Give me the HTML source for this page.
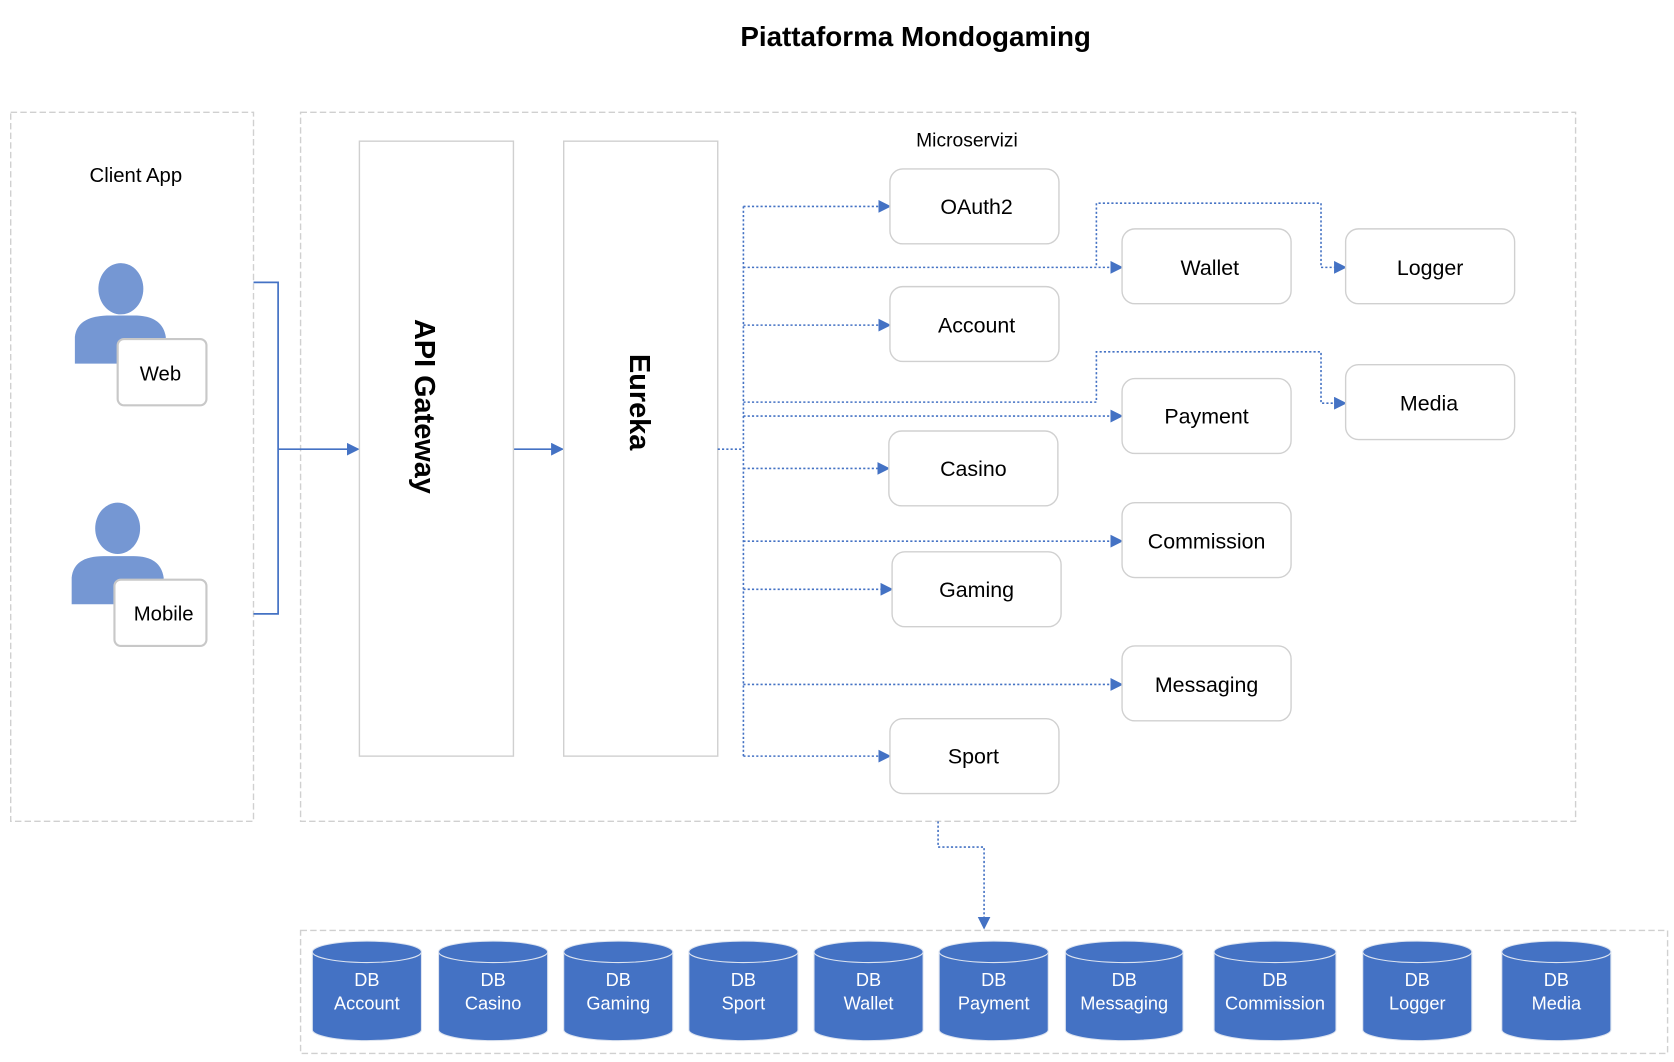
<!DOCTYPE html>
<html><head><meta charset="utf-8"><style>
html,body{margin:0;padding:0;background:#fff;}
svg{display:block;}
text{font-family:"Liberation Sans",sans-serif;}
</style></head><body>
<svg width="1674" height="1062" viewBox="0 0 1565 993" preserveAspectRatio="none" xmlns="http://www.w3.org/2000/svg">
<defs>
<marker id="a" viewBox="0 0 10 10" refX="9" refY="5" markerWidth="12" markerHeight="12" markerUnits="userSpaceOnUse" orient="auto"><path d="M0,0L10,5L0,10z" fill="#4472c4" stroke="none"/></marker>
</defs>
<text x="856" y="43" font-size="26" font-weight="bold" text-anchor="middle">Piattaforma Mondogaming</text>
<g fill="none" stroke="#d0d0d0" stroke-width="1.3" stroke-dasharray="6,3">
<rect x="10" y="105" width="227" height="663"/>
<rect x="281" y="105" width="1192" height="663"/>
<rect x="281" y="870" width="1278" height="115"/>
</g>
<text x="127" y="170" font-size="19" text-anchor="middle">Client App</text>
<text x="904" y="137" font-size="18" text-anchor="middle">Microservizi</text>
<g fill="#7597d3">
<ellipse cx="113" cy="270" rx="21" ry="24"/>
<path d="M70,340 L70,315 Q72,296 100,295 L128,295 Q152,296 155,315 L155,340z"/>
<ellipse cx="110" cy="494" rx="21" ry="24"/>
<path d="M67,565 L67,540 Q69,520 97,520 L125,520 Q150,520 153,540 L153,565z"/>
</g>
<g fill="#fff" stroke="#c8c8c8" stroke-width="2">
<rect x="110" y="317" width="83" height="62" rx="6"/>
<rect x="107" y="542" width="86" height="62" rx="6"/>
</g>
<text x="150" y="356" font-size="19" text-anchor="middle">Web</text>
<text x="153" y="580" font-size="19" text-anchor="middle">Mobile</text>
<g fill="none" stroke="#4472c4" stroke-width="1.6">
<path d="M237,264H260V574H237"/>
<path d="M260,420H335" marker-end="url(#a)"/>
<path d="M480,420H526" marker-end="url(#a)"/>
</g>
<g fill="#fff" stroke="#d0d0d0" stroke-width="1.3">
<rect x="336" y="132" width="144" height="575"/>
<rect x="527" y="132" width="144" height="575"/>
</g>
<text transform="translate(388,380) rotate(90)" font-size="27" font-weight="bold" text-anchor="middle">API Gateway</text>
<text transform="translate(589,376) rotate(90)" font-size="27" font-weight="bold" text-anchor="middle">Eureka</text>
<g fill="none" stroke="#4472c4" stroke-width="1.5" stroke-dasharray="2,2">
<path d="M671,420H695"/>
<path d="M695,193V707"/>
<path d="M695,193H832" marker-end="url(#a)"/>
<path d="M695,250H1049" marker-end="url(#a)"/>
<path d="M695,304H832" marker-end="url(#a)"/>
<path d="M695,389H1049" marker-end="url(#a)"/>
<path d="M695,438H831" marker-end="url(#a)"/>
<path d="M695,506H1049" marker-end="url(#a)"/>
<path d="M695,551H834" marker-end="url(#a)"/>
<path d="M695,640H1049" marker-end="url(#a)"/>
<path d="M695,707H832" marker-end="url(#a)"/>
<path d="M1025,248V190H1235V250H1258" marker-end="url(#a)"/>
<path d="M695,376H1025V329H1235V377H1258" marker-end="url(#a)"/>
<path d="M877,768V792H920V868" marker-end="url(#a)"/>
</g>
<g fill="#fff" stroke="#d0d0d0" stroke-width="1.3">
<rect x="832" y="158" width="158" height="70" rx="12"/>
<rect x="1049" y="214" width="158" height="70" rx="12"/>
<rect x="1258" y="214" width="158" height="70" rx="12"/>
<rect x="832" y="268" width="158" height="70" rx="12"/>
<rect x="1049" y="354" width="158" height="70" rx="12"/>
<rect x="1258" y="341" width="158" height="70" rx="12"/>
<rect x="831" y="403" width="158" height="70" rx="12"/>
<rect x="1049" y="470" width="158" height="70" rx="12"/>
<rect x="834" y="516" width="158" height="70" rx="12"/>
<rect x="1049" y="604" width="158" height="70" rx="12"/>
<rect x="832" y="672" width="158" height="70" rx="12"/>
</g>
<g font-size="20" text-anchor="middle">
<text x="913" y="200">OAuth2</text>
<text x="1131" y="257">Wallet</text>
<text x="1337" y="257">Logger</text>
<text x="913" y="311">Account</text>
<text x="1128" y="396">Payment</text>
<text x="1336" y="384">Media</text>
<text x="910" y="445">Casino</text>
<text x="1128" y="513">Commission</text>
<text x="913" y="558">Gaming</text>
<text x="1128" y="647">Messaging</text>
<text x="910" y="714">Sport</text>
</g>
<g stroke="#dde4f0" stroke-width="1">
<g fill="#4472c4">
<path d="M292,890V963A51,10 0 0 0 394,963V890z"/><ellipse cx="343" cy="890" rx="51" ry="10"/>
<path d="M410,890V963A51,10 0 0 0 512,963V890z"/><ellipse cx="461" cy="890" rx="51" ry="10"/>
<path d="M527,890V963A51,10 0 0 0 629,963V890z"/><ellipse cx="578" cy="890" rx="51" ry="10"/>
<path d="M644,890V963A51,10 0 0 0 746,963V890z"/><ellipse cx="695" cy="890" rx="51" ry="10"/>
<path d="M761,890V963A51,10 0 0 0 863,963V890z"/><ellipse cx="812" cy="890" rx="51" ry="10"/>
<path d="M878,890V963A51,10 0 0 0 980,963V890z"/><ellipse cx="929" cy="890" rx="51" ry="10"/>
<path d="M996,890V963A55,10 0 0 0 1106,963V890z"/><ellipse cx="1051" cy="890" rx="55" ry="10"/>
<path d="M1135,890V963A57,10 0 0 0 1249,963V890z"/><ellipse cx="1192" cy="890" rx="57" ry="10"/>
<path d="M1274,890V963A51,10 0 0 0 1376,963V890z"/><ellipse cx="1325" cy="890" rx="51" ry="10"/>
<path d="M1404,890V963A51,10 0 0 0 1506,963V890z"/><ellipse cx="1455" cy="890" rx="51" ry="10"/>
</g></g>
<g font-size="17" fill="#fff" text-anchor="middle">
<text x="343" y="922">DB</text><text x="343" y="944">Account</text>
<text x="461" y="922">DB</text><text x="461" y="944">Casino</text>
<text x="578" y="922">DB</text><text x="578" y="944">Gaming</text>
<text x="695" y="922">DB</text><text x="695" y="944">Sport</text>
<text x="812" y="922">DB</text><text x="812" y="944">Wallet</text>
<text x="929" y="922">DB</text><text x="929" y="944">Payment</text>
<text x="1051" y="922">DB</text><text x="1051" y="944">Messaging</text>
<text x="1192" y="922">DB</text><text x="1192" y="944">Commission</text>
<text x="1325" y="922">DB</text><text x="1325" y="944">Logger</text>
<text x="1455" y="922">DB</text><text x="1455" y="944">Media</text>
</g>
</svg>
</body></html>
